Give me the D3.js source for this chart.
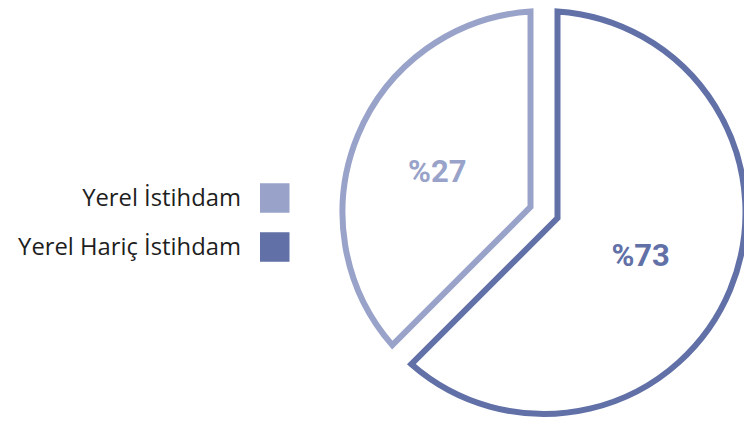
<!DOCTYPE html>
<html>
<head>
<meta charset="utf-8">
<script src="https://cdn.jsdelivr.net/npm/d3@7"></script>
<style>
  body { margin: 0; background: #fff; }
</style>
</head>
<body>
<div class="canvas"></div>
<script>
const categories = ["Yerel İstihdam", "Yerel Hariç İstihdam"];
const shownPercent = [27, 73];
// slice sizes as they are drawn in the picture (the split sits at about 225deg)
const drawnShare = [37.5, 62.5];
const colors = ["#99a3c9", "#6170a7"];

const dims = { width: 744, height: 422 };
const center = { x: 544, y: 212.5 };
const radius = 201.5;
const gap = 13.5; // half of the white gap between the two slices

const svg = d3
  .select(".canvas")
  .append("svg")
  .attr("width", dims.width)
  .attr("height", dims.height);

const data = categories.map((c, i) => ({
  name: c,
  share: drawnShare[i],
  pct: shownPercent[i],
}));

const color = d3.scaleOrdinal().domain(categories).range(colors);

const pie = d3
  .pie()
  .sort(null)
  .value((d) => d.share)
  .startAngle(-0.75 * Math.PI)
  .endAngle(1.25 * Math.PI);

// sector with its two straight edges pushed inward, so the gap has a constant width
function slicePath(d) {
  const half = (d.endAngle - d.startAngle) / 2;
  const mid = d.startAngle + half;
  const k = gap / Math.sin(half);
  const da = Math.asin(gap / radius);
  const s = d.startAngle + da;
  const e = d.endAngle - da;
  const p = d3.path();
  p.moveTo(k * Math.sin(mid), -k * Math.cos(mid));
  p.lineTo(radius * Math.sin(s), -radius * Math.cos(s));
  p.arc(0, 0, radius, s - Math.PI / 2, e - Math.PI / 2, false);
  p.closePath();
  return p.toString();
}

const labelArc = d3.arc().innerRadius(110).outerRadius(110);

const g = svg
  .append("g")
  .attr("transform", `translate(${center.x}, ${center.y})`);

const slices = g.selectAll("g.slice").data(pie(data)).join("g").attr("class", "slice");

slices
  .append("path")
  .attr("d", slicePath)
  .attr("fill", "#fff")
  .attr("stroke", (d) => color(d.data.name))
  .attr("stroke-width", 6)
  .attr("stroke-linejoin", "miter")
  .attr("stroke-miterlimit", 10);

slices
  .append("text")
  .attr("transform", (d) => `translate(${labelArc.centroid(d)})`)
  .attr("text-anchor", "middle")
  .attr("dx", -5)
  .attr("dy", "0.36em")
  .attr("fill", (d) => color(d.data.name))
  .style("font-family", "Roboto, sans-serif")
  .style("font-weight", 700)
  .style("font-size", "31px")
  .text((d) => "%" + d.data.pct);

// legend
const y = d3.scalePoint().domain(categories).range([198, 247]);
const box = 29.5;

const legend = svg
  .append("g")
  .selectAll("g")
  .data(categories)
  .join("g")
  .attr("transform", (d) => `translate(0, ${y(d)})`);

legend
  .append("rect")
  .attr("x", 260)
  .attr("y", -box / 2)
  .attr("width", box)
  .attr("height", box)
  .attr("fill", (d) => color(d));

legend
  .append("text")
  .attr("x", 241)
  .attr("dy", "0.35em")
  .attr("text-anchor", "end")
  .attr("fill", "#1e1e1e")
  .style("font-family", "'Open Sans', sans-serif")
  .style("font-size", "23.8px")
  .text((d) => d);
</script>
</body>
</html>
